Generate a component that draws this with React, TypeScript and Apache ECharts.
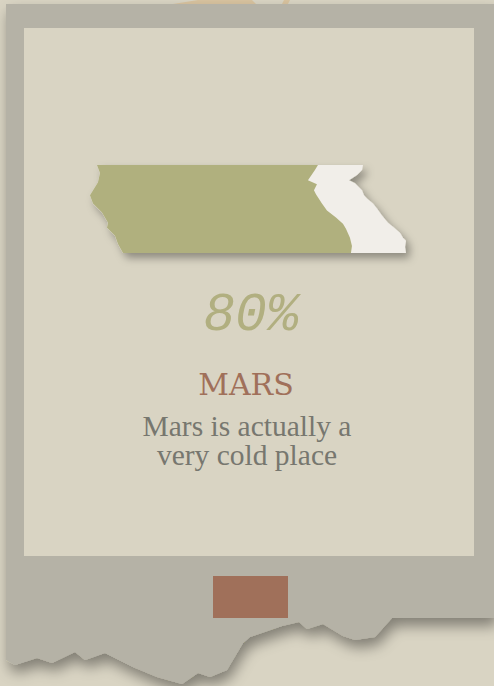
import React, { useEffect, useRef } from 'react';
import * as echarts from 'echarts';

// ---- data ----
const categories = ['Mars'];
const values = [80];
const fullValues = [100];
const titles = ['MARS'];
const descriptionLines = ['Mars is actually a', 'very cold place'];

// ---- symbol shapes (torn paper) ----
const leftEdge: number[][] = [
  [97, 165], [100, 173], [98, 182], [90, 195], [93, 203], [102, 212], [108, 222], [107, 227], [115, 235], [118, 243], [123, 252],
];
const greenRight: number[][] = [
  [318, 165], [315, 170], [308, 180], [317, 184], [314, 190], [316, 194], [322, 203], [327, 210], [336, 217], [343, 223], [346, 228], [350, 237], [352, 245], [351, 252],
];
const whiteRight: number[][] = [
  [363, 165], [362, 170], [357, 175], [349, 180], [355, 183], [362, 190], [364, 195], [367, 198], [373, 203], [377, 208], [382, 215], [388, 222], [393, 226], [400, 232], [403, 237], [406, 240], [405, 246], [406, 252],
];

function shapePath(right: number[][]) {
  const pts = [...right, ...leftEdge.slice().reverse()];
  return 'path://M' + pts.map((p) => p[0] + ' ' + p[1]).join(' L') + ' Z';
}

const cardPoints: number[][] = [
  [6, 4], [494, 4], [494, 618], [392, 618], [375, 637], [355, 640], [343, 636], [323, 624], [307, 629], [299, 622], [282, 626], [250, 637], [243, 643], [227, 670], [210, 677], [198, 673], [182, 684], [157, 677], [133, 667], [105, 653], [85, 660], [75, 652], [52, 663], [37, 658], [15, 665], [6, 660],
];

export default function App() {
  const ref = useRef<HTMLDivElement>(null);
  useEffect(() => {
    if (!ref.current) return;
    const chart = echarts.init(ref.current, null, { renderer: 'svg' });
    chart.setOption({
      animation: false,
      backgroundColor: '#d9d4c3',
      grid: { left: 90, right: 88, top: 160, height: 98 },
      xAxis: { type: 'value', min: 0, max: 100, show: false },
      yAxis: { type: 'category', data: categories, show: false },
      graphic: {
        elements: [
          {
            type: 'polygon', z: -30,
            shape: { points: [[173, 4], [198, 0], [252, 0], [256, 4]] },
            style: { fill: '#d8c39f' },
          },
          {
            type: 'polygon', z: -30,
            shape: { points: [[282, 4], [284, 0], [290, 0], [288, 4]] },
            style: { fill: '#d8c39f' },
          },
          {
            type: 'polygon', z: -20,
            shape: { points: cardPoints },
            style: { fill: '#b5b2a6', shadowBlur: 14, shadowColor: 'rgba(0,0,0,0.4)', shadowOffsetY: 8, shadowOffsetX: 3 },
          },
          {
            type: 'rect', z: -10,
            shape: { x: 24, y: 28, width: 450, height: 528 },
            style: { fill: '#d9d4c3' },
          },
          {
            type: 'rect', z: -10,
            shape: { x: 213, y: 576, width: 75, height: 42 },
            style: { fill: '#a0705a' },
          },
          {
            type: 'text', z: 10, x: 251, y: 316,
            style: {
              text: values[0] + '%', fill: '#b1af80', fontFamily: 'Liberation Mono', fontStyle: 'italic', fontSize: 53,
              textAlign: 'center', textVerticalAlign: 'middle',
            },
          },
          {
            type: 'text', z: 10, x: 246, y: 384,
            style: {
              text: titles[0], fill: '#a0705a', fontFamily: "'DejaVu Serif', serif", fontSize: 30,
              textAlign: 'center', textVerticalAlign: 'middle',
            },
          },
          {
            type: 'text', z: 10, x: 247, y: 440,
            style: {
              text: descriptionLines.join('\n'), fill: '#77776f', fontFamily: 'Liberation Serif', fontSize: 29.5,
              lineHeight: 29, textAlign: 'center', textVerticalAlign: 'middle',
            },
          },
        ],
      },
      series: [
        {
          type: 'pictorialBar',
          data: fullValues,
          symbol: shapePath(whiteRight),
          symbolSize: ['100%', 88],
          symbolPosition: 'start',
          barGap: '-100%',
          z: 2,
          itemStyle: { color: '#f1eee9', shadowBlur: 8, shadowColor: 'rgba(0,0,0,0.35)', shadowOffsetX: 4, shadowOffsetY: 5 },
        },
        {
          type: 'pictorialBar',
          data: values,
          symbol: shapePath(greenRight),
          symbolSize: ['103.6%', 88],
          symbolPosition: 'start',
          barGap: '-100%',
          z: 3,
          itemStyle: { color: '#b0b07e' },
        },
      ],
    });
    return () => chart.dispose();
  }, []);
  return <div ref={ref} style={{ position: 'absolute', left: 0, top: 0, width: 494, height: 686 }} />;
}
